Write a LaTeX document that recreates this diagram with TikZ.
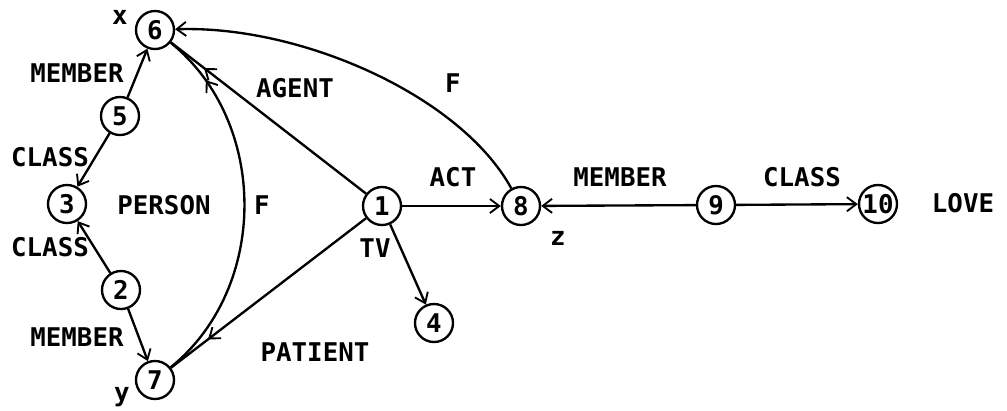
\documentclass[tikz,border=0pt]{standalone}
\usepackage{fontspec}
\setmonofont{DejaVu Sans Mono}
\usetikzlibrary{arrows.meta,decorations.markings}
\newcommand\labfont{\ttfamily\bfseries\fontsize{22}{24}\selectfont}

\begin{document}
\begin{tikzpicture}[x=0.03cm,y=-0.03cm,
  vertex/.style={draw, circle, line width=2pt, minimum size=1.14cm, inner sep=0pt, font=\labfont},
  lab/.style={font=\labfont, inner sep=0pt},
  edge/.style={line width=2pt},
  barb/.style={-{Straight Barb[length=8pt,width=12pt,line width=1.6pt]}},
  tip/.style={edge, barb},
  midtip/.style={edge, postaction={decorate},
    decoration={markings, mark=at position #1 with {\arrow{Straight Barb[length=8pt,width=12pt,line width=1.6pt]}}}}
]
\useasboundingbox (0,0) rectangle (1007,410);

% nodes of the network
\node[vertex] (n6) at (155,30) {6};
\node[vertex] (n5) at (120,116) {5};
\node[vertex] (n3) at (67,204) {3};
\node[vertex] (n2) at (121,290) {2};
\node[vertex] (n7) at (155,380) {7};
\node[vertex] (n1) at (382,206) {1};
\node[vertex] (n4) at (434,323) {4};
\node[vertex] (n8) at (521,206) {8};
\node[vertex] (n9) at (716,205) {9};
\node[vertex] (n10) at (878,204) {10};

% labels
\node[lab] (lx) at (120,17) {x};
\node[lab] (ly) at (122,397) {y};
\node[lab] (lz) at (558,238) {z};
\node[lab] (lmem1) at (77,73) {MEMBER};
\node[lab] (lcls1) at (50,157) {CLASS};
\node[lab] (lperson) at (164,205) {PERSON};
\node[lab] (lf1) at (262,205) {F};
\node[lab] (lcls2) at (50,247) {CLASS};
\node[lab] (lmem2) at (77,337) {MEMBER};
\node[lab] (lagent) at (295,88) {AGENT};
\node[lab] (lf2) at (453,83) {F};
\node[lab] (lact) at (453,177) {ACT};
\node[lab] (lmem3) at (620,177) {MEMBER};
\node[lab] (lcls3) at (802,177) {CLASS};
\node[lab] (llove) at (963,203) {LOVE};
\node[lab] (ltv) at (375,248) {TV};
\node[lab] (lpatient) at (315,352) {PATIENT};

% connectors
\draw[tip] (n5) -- (n6);
\draw[tip] (n5) -- (n3);
\draw[tip] (n2) -- (n3);
\draw[tip] (n2) -- (n7);
\draw[midtip=0.83] (n1) -- (n6);
\draw[midtip=0.81] (n1) -- (n7);
\draw[midtip=0.86] (n7) to[bend right=51] (n6);
\draw[tip] (n8) .. controls (460,95) and (300,25) .. (n6);
\draw[tip] (n1) -- (n8);
\draw[tip] (n9) -- (n8);
\draw[tip] (n9) -- (n10);
\draw[tip] (n1) -- (n4);
\end{tikzpicture}
\end{document}
